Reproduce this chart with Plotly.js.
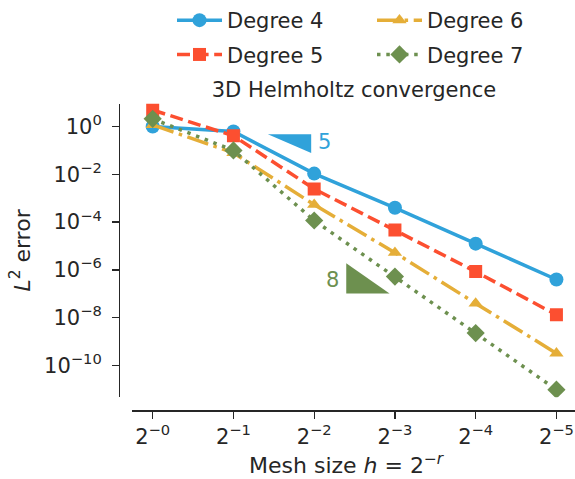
<!DOCTYPE html>
<html>
<head>
<meta charset="utf-8">
<script src="https://cdn.plot.ly/plotly-3.0.1.min.js"></script>
<style>html,body{margin:0;padding:0;background:#fff;}#chart{width:575px;height:479px;}</style>
</head>
<body>
<div id="chart"></div>
<script>
// Mesh sizes h = 2^-r
const meshSizes = [1, 0.5, 0.25, 0.125, 0.0625, 0.03125];
const xTickText = ['2<sup>−0</sup>', '2<sup>−1</sup>', '2<sup>−2</sup>', '2<sup>−3</sup>', '2<sup>−4</sup>', '2<sup>−5</sup>'];
const yTickVals = [1, 1e-2, 1e-4, 1e-6, 1e-8, 1e-10];
const yTickText = ['10<sup>0</sup>', '10<sup>−2</sup>', '10<sup>−4</sup>', '10<sup>−6</sup>', '10<sup>−8</sup>', '10<sup>−10</sup>'];

// L2 errors
const degree4 = [1.0, 0.62, 1.07e-2, 3.98e-4, 1.26e-5, 3.98e-7];
const degree5 = [4.9, 0.407, 2.45e-3, 4.68e-5, 8.5e-7, 1.32e-8];
const degree6 = [1.17, 0.079, 5.37e-4, 5.25e-6, 3.98e-8, 3.24e-10];
const degree7 = [2.09, 0.1, 1.17e-4, 5.25e-7, 2.29e-9, 9.8e-12];

// Slope triangles (rate 5 and rate 8)
const slope5X = [0.3722, 0.2565, 0.2565, 0.3722];
const slope5Y = [0.4786, 0.4786, 0.0776, 0.4786];
const slope8X = [0.1899, 0.1899, 0.1309, 0.1899];
const slope8Y = [1.905e-6, 1.023e-7, 1.023e-7, 1.905e-6];
const slope5Label = {text: '5', x: 0.2294, y: 0.222};
const slope8Label = {text: '8', x: 0.2136, y: 3.72e-7};

const xTitle = 'Mesh size <i>h</i> = 2<sup>−<i>r</i></sup>';
const yTitle = '<i>L</i><sup>2</sup> error';
const chartTitle = '3D Helmholtz convergence';

const C_BLUE = '#30a2da', C_RED = '#fc4f30', C_YEL = '#e5ae38', C_GRN = '#6d904f';
const TXT = '#262626';
const FONT = 'DejaVu Sans, sans-serif';
const LW = 3.5;

const traces = [
  {x: slope5X, y: slope5Y, mode: 'lines', fill: 'toself', fillcolor: C_BLUE, line: {width: 0, color: C_BLUE}, showlegend: false, hoverinfo: 'skip'},
  {x: slope8X, y: slope8Y, mode: 'lines', fill: 'toself', fillcolor: C_GRN, line: {width: 0, color: C_GRN}, showlegend: false, hoverinfo: 'skip'},
  {x: meshSizes, y: degree4, name: 'Degree 4', mode: 'lines+markers', legend: 'legend', legendgroup: 'g4',
   line: {color: C_BLUE, width: LW}, marker: {symbol: 'circle', size: 14, color: C_BLUE}},
  {x: meshSizes, y: degree5, name: 'Degree 5', mode: 'lines+markers', legend: 'legend', legendgroup: 'g5',
   line: {color: C_RED, width: LW, dash: '13px,5.6px'}, marker: {symbol: 'square', size: 13, color: C_RED}},
  {x: meshSizes, y: degree6, name: 'Degree 6', mode: 'lines+markers', legend: 'legend2', legendgroup: 'g6',
   line: {color: C_YEL, width: LW, dash: '22px,5.6px,3.5px,5.6px'}, marker: {symbol: 'triangle-up', size: 12.5, color: C_YEL}},
  {x: meshSizes, y: degree7, name: 'Degree 7', mode: 'lines+markers', legend: 'legend2', legendgroup: 'g7',
   line: {color: C_GRN, width: LW, dash: '3.5px,5.8px'}, marker: {symbol: 'diamond', size: 14, color: C_GRN}}
];

const W = 575, H = 479;
const legendCommon = {
  orientation: 'v', xanchor: 'left', yanchor: 'top', bgcolor: 'rgba(0,0,0,0)',
  font: {family: FONT, size: 21, color: TXT}, itemwidth: 45, tracegroupgap: 4, traceorder: 'grouped'
};

const layout = {
  width: W, height: H,
  margin: {l: 0, r: 0, t: 0, b: 0},
  paper_bgcolor: '#fff', plot_bgcolor: '#fff',
  font: {family: FONT, size: 21, color: TXT},
  title: {text: chartTitle, font: {family: FONT, size: 21, color: TXT},
          xref: 'paper', yref: 'paper', x: 354 / W, y: 1 - 88 / H, xanchor: 'center', yanchor: 'middle'},
  xaxis: {
    type: 'log', domain: [131.7 / W, 1], anchor: 'free', position: 1 - 410 / H,
    range: [Math.log10(Math.pow(2, 0.26)), Math.log10(Math.pow(2, -5.23))],
    tickvals: meshSizes, ticktext: xTickText,
    showline: true, linecolor: TXT, linewidth: 1.3, ticks: 'outside', ticklen: 7, tickwidth: 1.3, tickcolor: TXT,
    showgrid: false, zeroline: false, tickfont: {family: FONT, size: 21, color: TXT}
  },
  yaxis: {
    type: 'log', domain: [1 - 397 / H, 1 - 102 / H], anchor: 'free', position: 119 / W,
    range: [-11.33, 0.96],
    tickvals: yTickVals, ticktext: yTickText, ticklabelstandoff: 6,
    showline: true, linecolor: TXT, linewidth: 1.3, ticks: 'outside', ticklen: 7, tickwidth: 1.3, tickcolor: TXT,
    showgrid: false, zeroline: false, tickfont: {family: FONT, size: 21, color: TXT},
    title: {text: yTitle, font: {family: FONT, size: 22, color: TXT}, standoff: 6}
  },
  legend: Object.assign({}, legendCommon, {x: 172 / W, y: 1 + 2 / H}),
  legend2: Object.assign({}, legendCommon, {x: 372 / W, y: 1 + 2 / H}),
  annotations: [
    {text: xTitle, xref: 'paper', yref: 'paper', x: 347 / W, y: 0, showarrow: false, borderpad: 0,
     xanchor: 'center', yanchor: 'bottom', font: {family: FONT, size: 22, color: TXT}},
    {text: slope5Label.text, x: Math.log10(slope5Label.x), y: Math.log10(slope5Label.y), xref: 'x', yref: 'y',
     showarrow: false, font: {family: FONT, size: 21, color: C_BLUE}, xanchor: 'center', yanchor: 'middle'},
    {text: slope8Label.text, x: Math.log10(slope8Label.x), y: Math.log10(slope8Label.y), xref: 'x', yref: 'y',
     showarrow: false, font: {family: FONT, size: 21, color: C_GRN}, xanchor: 'center', yanchor: 'middle'}
  ],
  showlegend: true
};

Plotly.newPlot('chart', traces, layout, {staticPlot: true, displayModeBar: false});
</script>
</body>
</html>
